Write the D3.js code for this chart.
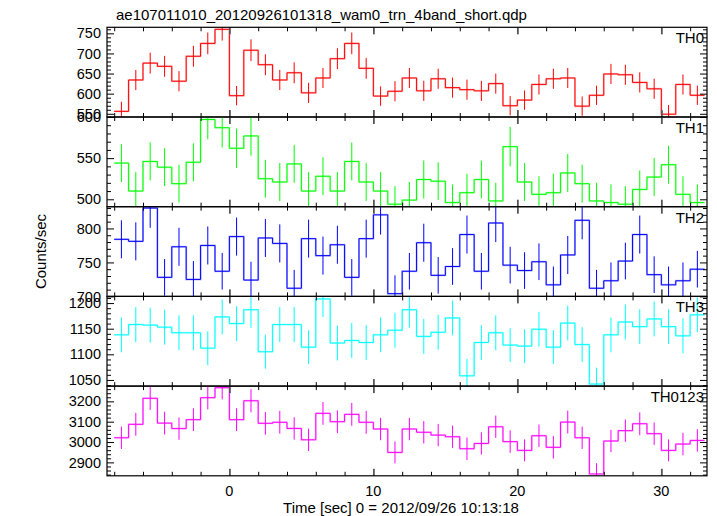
<!DOCTYPE html>
<html><head><meta charset="utf-8">
<script src="https://cdn.jsdelivr.net/npm/d3@7/dist/d3.min.js"></script>
<style>
body{margin:0;background:#fff}
text{font-family:"Liberation Sans",Arial,Helvetica,sans-serif;fill:#000}
</style>
</head><body>
<svg id="chart" width="717" height="516"></svg>
<script>
// ---- data ----
const binCenters = [-7.5,-6.5,-5.5,-4.5,-3.5,-2.5,-1.5,-0.5,0.5,1.5,2.5,3.5,4.5,5.5,6.5,7.5,8.5,9.5,10.5,11.5,12.5,13.5,14.5,15.5,16.5,17.5,18.5,19.5,20.5,21.5,22.5,23.5,24.5,25.5,26.5,27.5,28.5,29.5,30.5,31.5,32.5];
const binHalfWidth = 0.5;

const th0 = [556,634,676,668,631,693,725,760,595,708,672,634,652,602,639,687,725,663,594,606,639,607,637,615,610,607,625,570,584,623,637,639,569,596,649,647,628,612,549,623,596];
const th0Err = [24,25,26,26,25,26,27,28,24,27,26,25,26,25,25,26,27,26,24,25,25,25,25,25,25,25,25,24,24,25,25,25,24,24,25,25,25,25,23,25,24];

const th1 = [544,510,546,539,519,545,597,587,562,577,525,521,543,510,528,510,546,521,510,494,499,524,522,496,508,524,498,564,521,506,508,532,519,498,496,494,512,527,542,506,496];
const th1Err = [23,23,23,23,23,23,24,24,24,24,23,23,23,23,23,23,23,23,23,22,22,23,23,22,23,23,22,24,23,22,23,23,23,22,22,22,23,23,23,22,22];

const th2 = [784,781,830,728,773,725,775,737,788,724,786,778,712,785,760,776,728,785,820,704,737,779,731,744,791,737,808,746,738,751,717,761,812,712,723,752,791,732,717,723,740];
const th2Err = [28,28,29,27,28,27,28,27,28,27,28,28,27,28,28,28,27,28,29,27,27,28,27,27,28,27,28,27,27,27,27,28,28,27,27,27,28,27,27,27,27];

const th3 = [1138,1158,1157,1153,1142,1142,1112,1173,1160,1187,1105,1158,1158,1114,1208,1122,1127,1123,1138,1147,1187,1135,1143,1171,1058,1123,1142,1118,1116,1149,1114,1161,1119,1042,1138,1163,1154,1169,1154,1136,1177];
const th3Err = [34,34,34,34,34,34,33,34,34,35,33,34,34,33,35,34,34,34,34,34,35,34,34,34,33,34,34,33,33,34,33,34,34,32,34,34,34,34,34,34,34];

const th0123 = [3021,3087,3215,3093,3066,3110,3218,3267,3110,3203,3092,3097,3067,3011,3141,3100,3136,3097,3064,2949,3064,3048,3034,3026,2967,2993,3075,3002,2959,3031,2974,3098,3021,2843,3005,3056,3090,3041,2959,2990,3008];
const th0123Err = [55,56,57,56,55,56,57,57,56,57,56,56,55,55,56,56,56,56,55,54,55,55,55,55,55,55,55,55,54,55,55,56,55,53,55,55,56,55,54,55,55];

const panelNames = ["TH0","TH1","TH2","TH3","TH0123"];
const panelValues = [th0, th1, th2, th3, th0123];
const panelErrors = [th0Err, th1Err, th2Err, th3Err, th0123Err];
const panelColors = ["#ff0000","#00ff00","#0000ff","#00ffff","#ff00ff"];
const yDomains = [[542,765],[491,600],[700,832],[1038,1213],[2834,3275]];
const yMajorTicks = [[550,600,650,700,750],[500,550,600],[700,750,800],[1050,1100,1150,1200],[2900,3000,3100,3200]];
const yMinorStep = [10,10,10,10,20];
const xMajorTicks = [0,10,20,30];
const xTickLabels = ["0","10","20","30"];
const xMinorStep = 2;
const titleText = "ae107011010_20120926101318_wam0_trn_4band_short.qdp";
const xTitle = "Time [sec] 0 = 2012/09/26 10:13:18";
const yTitle = "Counts/sec";

// ---- layout ----
const L = 107, R = 707, T = 27.3, PH = 89.7;
const svg = d3.select("#chart");
svg.append("rect").attr("width",717).attr("height",516).attr("fill","#fff");

const x = d3.scaleLinear().domain([-8.5, 33.17]).range([L, R]);
const xDom = x.domain();
const xMinor = d3.range(Math.ceil(xDom[0]/xMinorStep)*xMinorStep, xDom[1], xMinorStep).filter(v => !xMajorTicks.includes(v));

panelNames.forEach((name, i) => {
  const top = T + i*PH, bot = top + PH;
  const y = d3.scaleLinear().domain(yDomains[i]).range([bot, top]);
  const g = svg.append("g");
  const clipId = "clip" + i;
  svg.append("clipPath").attr("id", clipId).append("rect")
    .attr("x", L).attr("y", top).attr("width", R-L).attr("height", PH);
  const data = binCenters.map((c, k) => ({c, v: panelValues[i][k], e: panelErrors[i][k]}));
  const col = panelColors[i];
  const plot = g.append("g").attr("clip-path", `url(#${clipId})`);

  // error bars
  plot.selectAll("line.err").data(data).join("line").attr("class","err")
    .attr("x1", d => x(d.c)).attr("x2", d => x(d.c))
    .attr("y1", d => y(d.v - d.e)).attr("y2", d => y(d.v + d.e))
    .attr("stroke", col).attr("stroke-width", 1);

  // step line
  const pts = [];
  data.forEach(d => { pts.push([d.c - binHalfWidth, d.v]); pts.push([d.c + binHalfWidth, d.v]); });
  const line = d3.line().x(p => x(p[0])).y(p => y(p[1]));
  plot.append("path").attr("d", line(pts)).attr("fill","none")
    .attr("stroke", col).attr("stroke-width", 2).attr("stroke-opacity", 0.25);
  plot.append("path").attr("d", line(pts)).attr("fill","none")
    .attr("stroke", col).attr("stroke-width", 1);

  // y axes
  const yMinor = d3.range(Math.ceil(yDomains[i][0]/yMinorStep[i])*yMinorStep[i], yDomains[i][1], yMinorStep[i])
                   .filter(v => !yMajorTicks[i].includes(v));
  const axL = g.append("g").attr("transform", `translate(${L},0)`)
    .call(d3.axisLeft(y).tickValues(yMajorTicks[i]).tickSize(-7).tickPadding(6).tickFormat(d3.format("d")));
  axL.select(".domain").remove();
  axL.selectAll("text").attr("font-size", 14.5).attr("font-family", '"Liberation Sans",Arial,sans-serif');
  const axLm = g.append("g").attr("transform", `translate(${L},0)`)
    .call(d3.axisLeft(y).tickValues(yMinor).tickSize(-4).tickFormat(""));
  axLm.select(".domain").remove();
  const axR = g.append("g").attr("transform", `translate(${R},0)`)
    .call(d3.axisRight(y).tickValues(yMajorTicks[i]).tickSize(-7).tickFormat(""));
  axR.select(".domain").remove();
  const axRm = g.append("g").attr("transform", `translate(${R},0)`)
    .call(d3.axisRight(y).tickValues(yMinor).tickSize(-4).tickFormat(""));
  axRm.select(".domain").remove();

  // x ticks on top and bottom of panel
  [[d3.axisTop, top],[d3.axisBottom, bot]].forEach(([ax, yy]) => {
    const a1 = g.append("g").attr("transform", `translate(0,${yy})`)
      .call(ax(x).tickValues(xMajorTicks).tickSize(-7).tickFormat(""));
    a1.select(".domain").remove();
    a1.selectAll("line").attr("stroke", "#555").attr("stroke-width", 1.8);
    const a2 = g.append("g").attr("transform", `translate(0,${yy})`)
      .call(ax(x).tickValues(xMinor).tickSize(-4).tickFormat(""));
    a2.select(".domain").remove();
  });

  // frame
  g.append("rect").attr("x", L).attr("y", top).attr("width", R-L).attr("height", PH)
    .attr("fill","none").attr("stroke","#000").attr("stroke-width",1.2);

  // panel label
  g.append("text").attr("x", R-3).attr("y", top+16).attr("text-anchor","end")
    .attr("font-size", 15).text(name);
});

// bottom x tick labels
const bottom = T + 5*PH;
svg.append("g").selectAll("text").data(xMajorTicks).join("text")
  .attr("x", d => x(d)).attr("y", bottom + 20).attr("text-anchor","middle")
  .attr("font-size", 14.5).text((d,k) => xTickLabels[k]);

svg.append("text").attr("x", (L+R)/2 - 6).attr("y", 513).attr("text-anchor","middle")
  .attr("font-size", 15).text(xTitle);
svg.append("text").attr("transform", `translate(46,${(T+bottom)/2}) rotate(-90)`)
  .attr("text-anchor","middle").attr("font-size", 15).text(yTitle);
svg.append("text").attr("x", L+9).attr("y", 20).attr("font-size", 15).text(titleText);
</script>
</body></html>
